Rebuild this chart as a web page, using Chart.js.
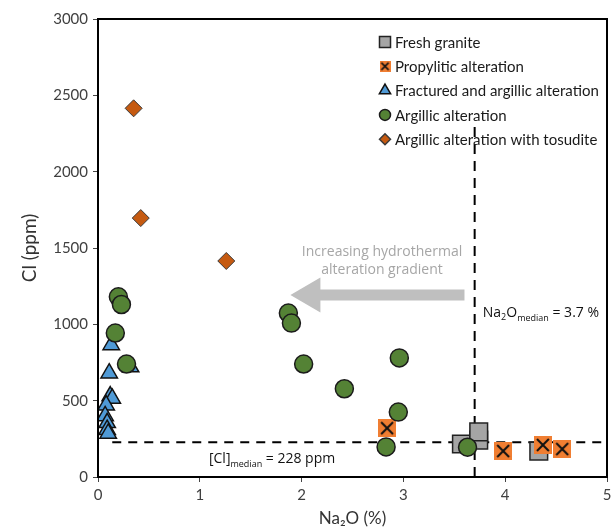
<!DOCTYPE html>
<html>
<head>
<meta charset="utf-8">
<script src="https://cdn.jsdelivr.net/npm/chart.js@4.4.1/dist/chart.umd.min.js"></script>
<style>
  html, body { margin: 0; padding: 0; background: #fff; overflow: hidden; }
  #wrap { width: 612px; height: 531px; position: relative; }
  #chart { display: block; }
</style>
</head>
<body>
<div id="wrap"><canvas id="chart"></canvas></div>
<script>
// series names
const seriesNames = ["Fresh granite", "Propylitic alteration", "Fractured and argillic alteration",
  "Argillic alteration", "Argillic alteration with tosudite"];

// Na2O (%) and Cl (ppm)
const freshX = [3.57, 3.74, 3.74, 4.33];
const freshY = [216, 242, 295, 170];
const propX = [2.84, 3.98, 4.37, 4.56];
const propY = [320, 170, 210, 183];
const fracX = [0.13, 0.11, 0.32, 0.12, 0.14, 0.08, 0.07, 0.09, 0.09, 0.10];
const fracY = [865, 680, 720, 530, 515, 470, 400, 355, 310, 285];
const argX = [0.20, 0.23, 0.17, 0.28, 1.87, 1.90, 2.02, 2.42, 2.96, 2.95, 2.83, 3.63];
const argY = [1180, 1130, 943, 740, 1074, 1008, 740, 578, 780, 425, 197, 195];
const tosX = [0.35, 0.42, 1.26];
const tosY = [2415, 1696, 1415];

// medians
const naMedian = 3.7;
const clMedian = 228;

// axis ticks
const xTicks = [0, 1, 2, 3, 4, 5];
const yTicks = [0, 500, 1000, 1500, 2000, 2500, 3000];

function pts(xs, ys) {
  return xs.map(function (v, i) { return { x: v, y: ys[i] }; });
}

// orange square with a black cross
function crossBox(size, lw) {
  const c = document.createElement("canvas");
  c.width = size; c.height = size;
  const g = c.getContext("2d");
  g.fillStyle = "#f07e32";
  g.fillRect(0, 0, size, size);
  g.strokeStyle = "#111";
  g.lineWidth = lw;
  const m = size * 0.17;
  g.beginPath();
  g.moveTo(m, m); g.lineTo(size - m, size - m);
  g.moveTo(size - m, m); g.lineTo(m, size - m);
  g.stroke();
  return c;
}
const propMarker = crossBox(18, 2);
const propLegend = crossBox(11, 1.6);

const styles = [
  { pointStyle: "rect", backgroundColor: "#a5a5a5", borderColor: "#222", borderWidth: 1.5, radius: 12.5, lr: 7.8 },
  { pointStyle: propMarker, backgroundColor: "#f07e32", borderColor: "#f07e32", borderWidth: 0, radius: 9, lr: 0, legendImg: propLegend },
  { pointStyle: "triangle", backgroundColor: "#4f9ad6", borderColor: "#111", borderWidth: 1.5, radius: 9.5, lr: 6.5 },
  { pointStyle: "circle", backgroundColor: "#548235", borderColor: "#1b1b1b", borderWidth: 1.5, radius: 9, lr: 5.5 },
  { pointStyle: "rectRot", backgroundColor: "#c55a11", borderColor: "#3a3a3a", borderWidth: 1, radius: 8.5, lr: 5.5 }
];
const seriesData = [pts(freshX, freshY), pts(propX, propY), pts(fracX, fracY), pts(argX, argY), pts(tosX, tosY)];

const datasets = seriesData.map(function (d, i) {
  const s = styles[i];
  return {
    label: seriesNames[i],
    data: d,
    pointStyle: s.pointStyle,
    backgroundColor: s.backgroundColor,
    borderColor: s.borderColor,
    borderWidth: s.borderWidth,
    pointRadius: s.radius,
    pointHoverRadius: s.radius,
    showLine: false,
    order: 5 - i
  };
});

// median lines
datasets.push({
  label: "clMedian",
  data: [{ x: 0.14, y: clMedian }, { x: 5, y: clMedian }],
  showLine: true, pointRadius: 0, borderColor: "#000", borderWidth: 2, borderDash: [9, 7], order: 10
});
datasets.push({
  label: "naMedian",
  data: [{ x: naMedian, y: 0 }, { x: naMedian, y: 2300 }],
  showLine: true, pointRadius: 0, borderColor: "#000", borderWidth: 2, borderDash: [10, 7], order: 10
});

// annotation settings (data units)
const arrowFrom = { x: 3.6, y: 1192 };
const arrowTo = { x: 1.89, y: 1192 };
const arrowText = ["Increasing hydrothermal", "alteration gradient"];

function subText(ctx, x, y, parts) {
  // parts: [text, size, dy]
  parts.forEach(function (p) {
    ctx.font = p[1] + "px 'Open Sans'";
    ctx.fillText(p[0], x, y + p[2]);
    x += ctx.measureText(p[0]).width;
  });
}

const extras = {
  id: "extras",
  beforeDatasetsDraw(chart) {
    const ctx = chart.ctx, xs = chart.scales.x, ys = chart.scales.y;
    const x0 = xs.getPixelForValue(arrowFrom.x), x1 = xs.getPixelForValue(arrowTo.x);
    const yy = ys.getPixelForValue(arrowFrom.y);
    ctx.save();
    ctx.fillStyle = "#bfbfbf";
    ctx.beginPath();
    ctx.moveTo(x0, yy - 5.5);
    ctx.lineTo(x1 + 30, yy - 5.5);
    ctx.lineTo(x1 + 30, yy - 17.5);
    ctx.lineTo(x1, yy);
    ctx.lineTo(x1 + 30, yy + 17.5);
    ctx.lineTo(x1 + 30, yy + 5.5);
    ctx.lineTo(x0, yy + 5.5);
    ctx.closePath();
    ctx.fill();
    ctx.fillStyle = "#a6a6a6";
    ctx.font = "14px 'Open Sans'";
    ctx.textAlign = "center";
    ctx.textBaseline = "middle";
    const tx = xs.getPixelForValue(2.79);
    ctx.fillText(arrowText[0], tx, ys.getPixelForValue(1474));
    ctx.fillText(arrowText[1], tx, ys.getPixelForValue(1356));
    ctx.restore();
  },
  afterDraw(chart) {
    const ctx = chart.ctx, a = chart.chartArea, xs = chart.scales.x, ys = chart.scales.y;
    ctx.save();
    // frame
    ctx.strokeStyle = "#000";
    ctx.lineWidth = 2;
    ctx.strokeRect(a.left, a.top, a.right - a.left, a.bottom - a.top);
    // median labels
    ctx.fillStyle = "#111";
    ctx.textAlign = "left";
    ctx.textBaseline = "alphabetic";
    subText(ctx, xs.getPixelForValue(3.78), ys.getPixelForValue(1080) + 5,
      [["Na", 14, 0], ["2", 9, 3], ["O", 14, 0], ["median", 9, 4], [" = 3.7 %", 14, 0]]);
    subText(ctx, xs.getPixelForValue(1.09), ys.getPixelForValue(125) + 5,
      [["[Cl]", 14, 0], ["median", 9, 4], [" = 228 ppm", 14, 0]]);
    // legend
    const lx = a.right - 222, ly = a.top + 23;
    ctx.font = "15px Lato";
    ctx.textBaseline = "middle";
    for (let i = 0; i < seriesNames.length; i++) {
      const s = styles[i];
      const cy = ly + i * 24.3;
      if (s.legendImg) {
        ctx.drawImage(s.legendImg, lx - s.legendImg.width / 2, cy - s.legendImg.height / 2);
      } else {
        ctx.fillStyle = s.backgroundColor;
        ctx.strokeStyle = s.borderColor;
        ctx.lineWidth = 1.5;
        Chart.helpers.drawPoint(ctx, { pointStyle: s.pointStyle, radius: s.lr, borderWidth: 1.5 }, lx, cy);
      }
      ctx.fillStyle = "#1a1a1a";
      ctx.fillText(seriesNames[i], lx + 10, cy + 1);
    }
    ctx.restore();
  }
};

new Chart(document.getElementById("chart"), {
  type: "scatter",
  data: { datasets: datasets },
  plugins: [extras],
  options: {
    responsive: true,
    maintainAspectRatio: false,
    animation: false,
    layout: { autoPadding: false, padding: { top: 19, right: 5, left: 0, bottom: 0 } },
    plugins: { legend: { display: false }, tooltip: { enabled: false } },
    scales: {
      x: {
        type: "linear", min: 0, max: 5,
        afterBuildTicks: function (s) { s.ticks = xTicks.map(function (v) { return { value: v }; }); },
        afterFit: function (s) { s.height = 54; s.paddingRight = 0; s.paddingLeft = 0; },
        grid: { drawOnChartArea: false, drawTicks: true, tickLength: 5, color: "#444", lineWidth: 1 },
        border: { display: true, color: "#000", width: 2 },
        ticks: { color: "#404040", font: { family: "Lato", size: 15 }, padding: 4, maxRotation: 0 },
        title: { display: true, text: "Na₂O (%)", color: "#333", font: { family: "Lato", size: 17 }, padding: { top: 0, bottom: 2 } }
      },
      y: {
        type: "linear", min: 0, max: 3000,
        afterBuildTicks: function (s) { s.ticks = yTicks.map(function (v) { return { value: v }; }); },
        afterFit: function (s) { s.width = 98; s.paddingTop = 0; s.paddingBottom = 0; },
        grid: { drawOnChartArea: false, drawTicks: true, tickLength: 5, color: "#444", lineWidth: 1 },
        border: { display: true, color: "#000", width: 2 },
        ticks: { color: "#404040", font: { family: "Lato", size: 15 }, padding: 5, callback: function (v) { return String(v); } },
        title: { display: true, text: "Cl (ppm)", color: "#333", font: { family: "Lato", size: 19 }, padding: { top: 18, bottom: 0 } }
      }
    }
  }
});
</script>
</body>
</html>
